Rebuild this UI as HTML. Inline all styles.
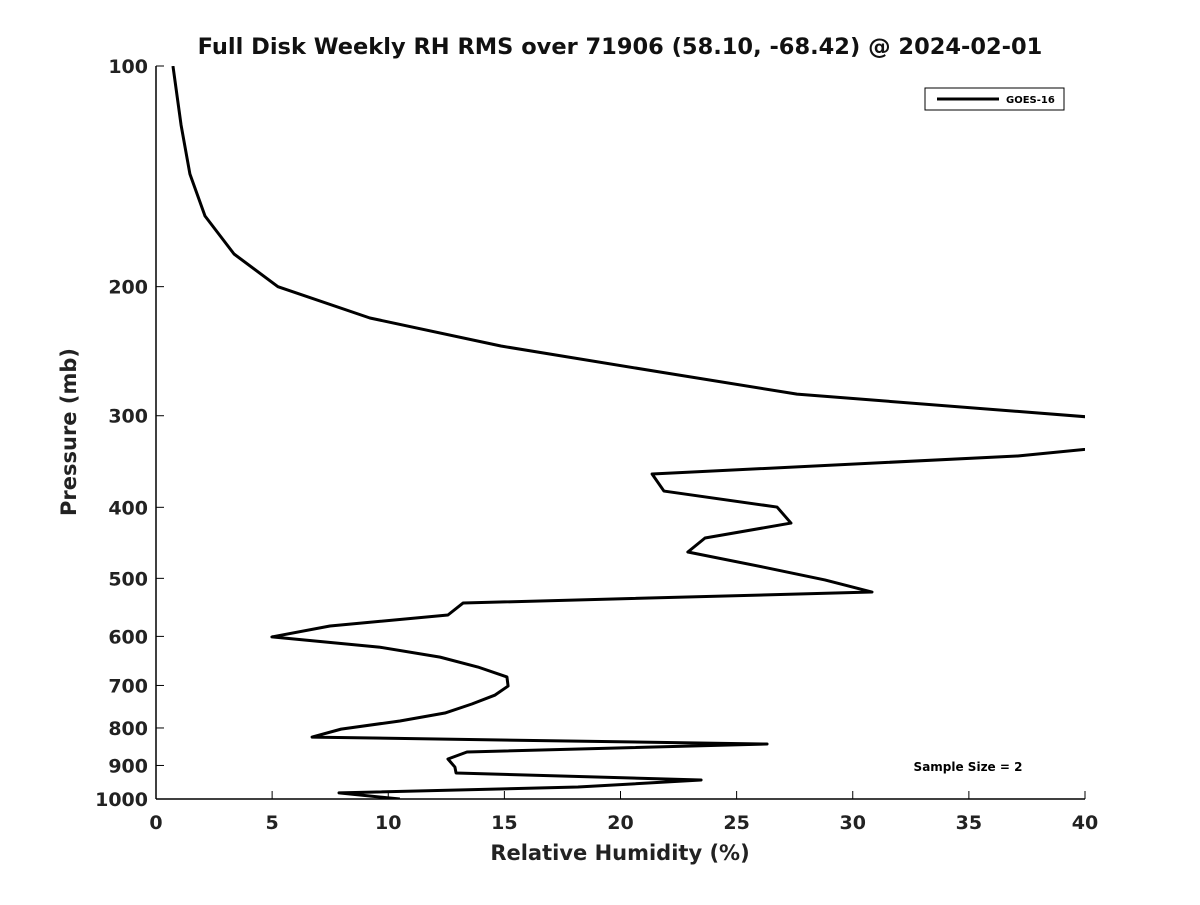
<!DOCTYPE html>
<html><head><meta charset="utf-8"><style>
body{margin:0;background:#fff;}
svg{font-family:"DejaVu Sans","Liberation Sans",sans-serif;}
</style></head><body>
<svg id="chart" width="1200" height="900" xmlns="http://www.w3.org/2000/svg">
<rect width="1200" height="900" fill="#fff"/>
<defs><clipPath id="clip"><rect x="156" y="66" width="929" height="733"/></clipPath></defs>
<text x="620" y="54" text-anchor="middle" font-size="22.5" font-weight="bold" fill="#111">Full Disk Weekly RH RMS over 71906 (58.10, -68.42) @ 2024-02-01</text>
<g id="axes"></g>
<polyline id="series" clip-path="url(#clip)" fill="none" stroke="#000" stroke-width="3" stroke-linejoin="round"/>
<text x="620" y="860" text-anchor="middle" font-size="21" font-weight="bold" fill="#222">Relative Humidity (%)</text>
<text transform="translate(76,432) rotate(-90)" text-anchor="middle" font-size="21" font-weight="bold" fill="#222">Pressure (mb)</text>
<g>
<rect x="925" y="88" width="139" height="22" fill="#fff" stroke="#000" stroke-width="1"/>
<line x1="937" y1="99" x2="999" y2="99" stroke="#000" stroke-width="3"/>
<text x="1006" y="103" font-size="10" font-weight="bold">GOES-16</text>
</g>
<text x="968" y="771" text-anchor="middle" font-size="12" font-weight="bold">Sample Size = 2</text>
</svg>
<script>
const pressures=[100,120.4,140.4,160.2,180.5,200,220.7,241,261.5,280.3,315,340.4,360.3,380.1,399.7,420.3,440.5,460.3,482.6,502.5,522,540.3,561,580.7,601,620.5,640.4,660.6,681.5,701.3,721.4,742,763.3,782.6,802.9,823.3,841.4,862.8,882,904.5,921.6,942,963,981,1000];
const rhValues=[0.73,1.08,1.46,2.11,3.36,5.25,9.21,14.85,21.7,27.6,48,37.1,21.36,21.87,26.74,27.34,23.64,22.9,26.14,28.8,30.83,13.22,12.57,7.49,4.99,9.6,12.23,13.86,15.11,15.16,14.6,13.6,12.44,10.5,7.97,6.72,26.31,13.39,12.57,12.87,12.92,23.47,18.17,7.88,10.5];
const xTicks=[0,5,10,15,20,25,30,35,40];
const yTicks=[100,200,300,400,500,600,700,800,900,1000];
const X0=156,X1=1085,Y0=66,Y1=799;
function xs(v){return X0+(v-0)/(40-0)*(X1-X0);}
function ys(p){return Y0+(Math.log10(p)-2)/(1)*(Y1-Y0);}
const NS='http://www.w3.org/2000/svg';
const ax=document.getElementById('axes');
function mk(t,a){const e=document.createElementNS(NS,t);for(const k in a)e.setAttribute(k,a[k]);ax.appendChild(e);return e;}
let e=mk('line',{x1:X0,y1:Y0,x2:X0,y2:Y1,stroke:'#000','stroke-width':1.5});


e=mk('line',{x1:X0,y1:Y1,x2:X1,y2:Y1,stroke:'#000','stroke-width':1.5});


xTicks.forEach(v=>{
  const x=xs(v);
  mk('line',{x1:x,y1:Y1,x2:x,y2:Y1-8,stroke:'#000','stroke-width':1});
  const t=mk('text',{x:x,y:Y1+30,'text-anchor':'middle','font-size':19,'font-weight':'bold',fill:'#222'});
  t.textContent=v;
  
  
});
yTicks.forEach(p=>{
  const y=ys(p);
  mk('line',{x1:X0,y1:y,x2:X0+8,y2:y,stroke:'#000','stroke-width':1});
  const t=mk('text',{x:X0-8,y:y+7,'text-anchor':'end','font-size':19,'font-weight':'bold',fill:'#222'});
  t.textContent=p;
  
  
});
document.getElementById('series').setAttribute('points',pressures.map((p,i)=>xs(rhValues[i])+','+ys(p)).join(' '));
</script>
</body></html>
